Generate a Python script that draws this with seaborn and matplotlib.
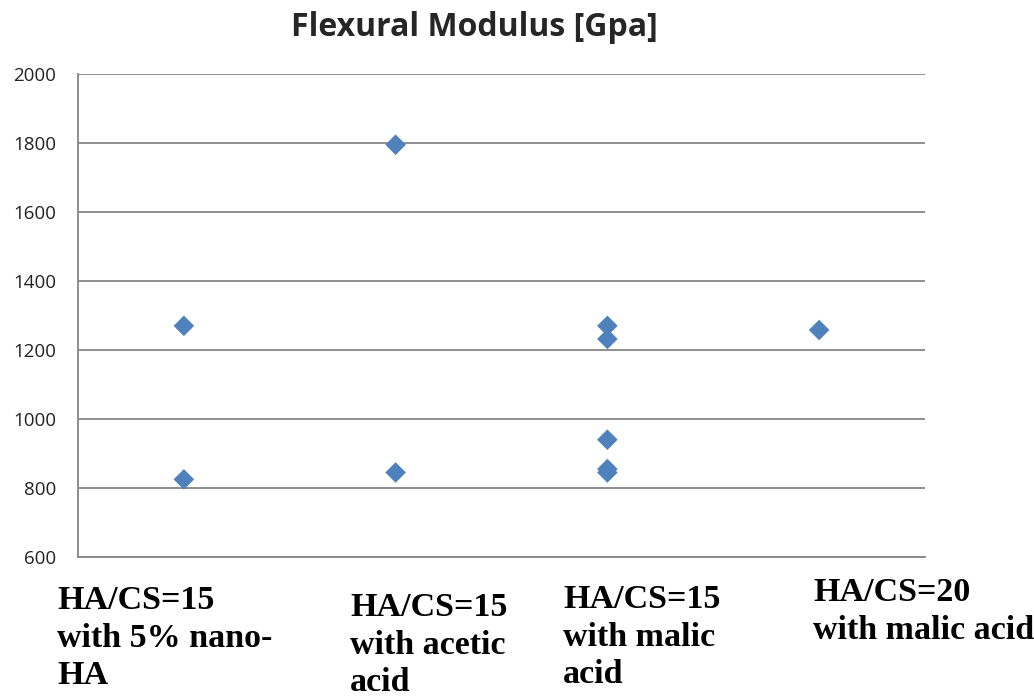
import pandas as pd
import matplotlib.pyplot as plt
import seaborn as sns

sns.set_style("white")

# Data
categories = ["HA/CS=15\nwith 5% nano-\nHA",
              "HA/CS=15\nwith acetic\nacid",
              "HA/CS=15\nwith malic\nacid",
              "HA/CS=20\nwith malic acid"]
group_index = [1, 1, 2, 2, 3, 3, 3, 3, 3, 4]
modulus = [1270, 825, 1795, 845, 1270, 1232, 940, 855, 845, 1258]
y_ticks = [600, 800, 1000, 1200, 1400, 1600, 1800, 2000]

df = pd.DataFrame({"group": group_index, "modulus": modulus})

fig = plt.figure(figsize=(10.34, 6.98), dpi=100)
ax = fig.add_axes([78 / 1034, 1 - 557 / 698, (925 - 78) / 1034, (557 - 74) / 698])

sns.scatterplot(data=df, x="group", y="modulus", marker="D", s=110,
                color="#4F81BD", edgecolor="none", ax=ax, zorder=3)

grid_col = "#868686"
ax.set_xlim(0.5, 4.5)
ax.set_ylim(600, 2000)
ax.set_yticks(y_ticks)
ax.set_xticks([0.5, 1.5, 2.5, 3.5, 4.5])
ax.set_xticklabels([])
ax.yaxis.grid(True, color=grid_col, linewidth=1.3)
ax.xaxis.grid(False)
ax.set_axisbelow(True)
for side in ["top", "right"]:
    ax.spines[side].set_visible(False)
for side in ["left", "bottom"]:
    ax.spines[side].set_color(grid_col)
    ax.spines[side].set_linewidth(1.3)
ax.tick_params(axis="y", direction="out", length=5.5, width=1.3, color=grid_col,
               labelsize=13.5, labelcolor="#222222", pad=10)
ax.tick_params(axis="x", direction="out", length=5, width=1.3, color=grid_col)
for lbl in ax.get_yticklabels():
    lbl.set_family("Open Sans")
ax.set_xlabel("")
ax.set_ylabel("")

# Category labels placed as in the source
label_pos = [(57, 585), (350, 592), (563, 584), (813, 577)]
for text, (px, py) in zip(categories, label_pos):
    fig.text(px / 1034, 1 - py / 698, text, ha="left", va="top",
             family="Liberation Serif", fontweight="bold", fontsize=24.5,
             linespacing=1.28, color="black")

fig.text(474 / 1034, 1 - 27 / 698, "Flexural Modulus [Gpa]", ha="center",
         va="center", family="Open Sans", fontweight="bold", fontsize=23)

fig.savefig("out.png", dpi=100)
